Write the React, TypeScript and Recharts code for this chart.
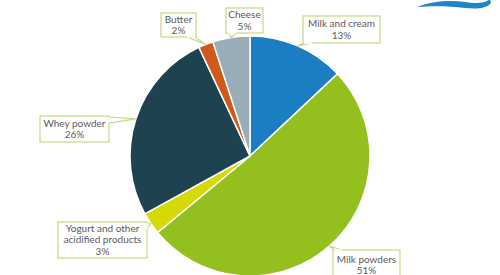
import { Pie, PieChart, Cell } from "recharts";

const categories = [
  "Milk and cream",
  "Milk powders",
  "Yogurt and other\nacidified products",
  "Whey powder",
  "Butter",
  "Cheese"
];
const shares = [13, 51, 3, 26, 2, 5];
const colors = ["#1b7dc2", "#93bf1f", "#d3da04", "#1f4251", "#d05a1b", "#98adb8"];

// callout boxes (x, y, w, h), in chart pixels
const callouts = [
  { x: 303, y: 16, w: 77, h: 27 },
  { x: 333, y: 250, w: 67, h: 30 },
  { x: 58, y: 222, w: 89, h: 36 },
  { x: 40, y: 116, w: 69, h: 26 },
  { x: 161, y: 13, w: 35, h: 24 },
  { x: 226, y: 8, w: 37, h: 25 }
];

const data = categories.map((name, i) => ({ name, value: shares[i] }));

const RADIAN = Math.PI / 180;

function Callout(props: any) {
  const { cx, cy, midAngle, outerRadius, index, value, name } = props;
  const box = callouts[index];
  const px = cx + outerRadius * Math.cos(-midAngle * RADIAN);
  const py = cy + outerRadius * Math.sin(-midAngle * RADIAN);
  // nearest point on the box to the arc point
  const nx = Math.min(Math.max(px, box.x), box.x + box.w);
  const ny = Math.min(Math.max(py, box.y), box.y + box.h);
  const onHoriz = ny === box.y || ny === box.y + box.h;
  let b1: [number, number];
  let b2: [number, number];
  if (onHoriz) {
    const a = Math.max(box.x + 1, Math.min(nx - 3, box.x + box.w - 9));
    b1 = [a, ny];
    b2 = [a + 8, ny];
  } else {
    const a = Math.max(box.y + 1, Math.min(ny - 3, box.y + box.h - 9));
    b1 = [nx, a];
    b2 = [nx, a + 6];
  }
  const lines = [...String(name).split("\n"), `${value}%`];
  const lh = 11.5;
  const top = box.y + box.h / 2 - (lines.length * lh) / 2 + lh - 2.5;
  return (
    <g>
      <polygon
        points={`${b1[0]},${b1[1]} ${px},${py} ${b2[0]},${b2[1]}`}
        fill="#ffffff"
        stroke="#c2db84"
        strokeWidth={1.2}
      />
      <rect x={box.x} y={box.y} width={box.w} height={box.h} fill="#ffffff" stroke="#c2db84" strokeWidth={1.2} />
      <line x1={b1[0]} y1={b1[1]} x2={b2[0]} y2={b2[1]} stroke="#ffffff" strokeWidth={1.6} />
      {lines.map((t, i) => (
        <text
          key={i}
          x={box.x + box.w / 2}
          y={top + i * lh}
          textAnchor="middle"
          fill="#5a5a5a"
          fontSize={10}
          fontFamily="Lato, sans-serif"
        >
          {t}
        </text>
      ))}
    </g>
  );
}

export default function App() {
  return (
    <div style={{ position: "absolute", left: 0, top: 0, width: 500, height: 275, background: "#fff" }}>
      <PieChart width={500} height={275} margin={{ top: 0, right: 0, bottom: 0, left: 0 }}>
        <Pie
          data={data}
          dataKey="value"
          nameKey="name"
          cx={250}
          cy={156}
          outerRadius={120}
          startAngle={90}
          endAngle={-270}
          stroke="#ffffff"
          strokeWidth={1.5}
          labelLine={false}
          label={Callout}
          isAnimationActive={false}
        >
          {data.map((d, i) => (
            <Cell key={d.name} fill={colors[i]} />
          ))}
        </Pie>
      </PieChart>
      <svg width={500} height={275} style={{ position: "absolute", left: 0, top: 0, pointerEvents: "none" }}>
        <path
          d="M417 7 C432 1 450 0 465 2 C478 4 486 3 490 -1 L491 3 C486 9 476 9 465 8 C450 6 432 6 417 7 Z"
          fill="#1b86c9"
        />
      </svg>
    </div>
  );
}
